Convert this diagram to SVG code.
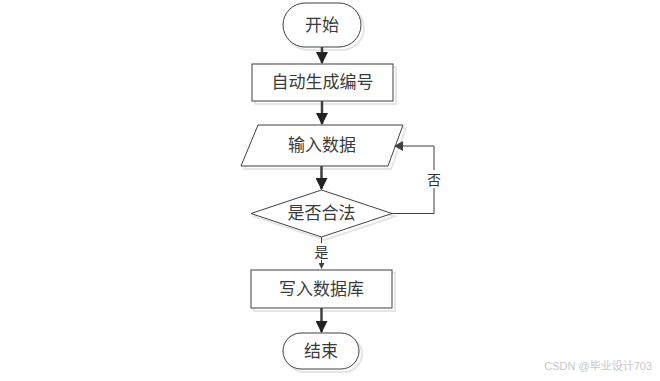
<svg xmlns="http://www.w3.org/2000/svg" width="660" height="381" viewBox="0 0 660 381">
<defs>
<marker id="ah" markerWidth="10" markerHeight="10" refX="8" refY="5" orient="auto" markerUnits="userSpaceOnUse">
<path d="M0,0 L9,5 L0,10 Z" fill="#404040"/>
</marker>
<marker id="ahs" markerWidth="6" markerHeight="6" refX="5" refY="3" orient="auto" markerUnits="userSpaceOnUse">
<path d="M0,0 L6,3 L0,6 Z" fill="#404040"/>
</marker>
<marker id="ahl" markerWidth="12" markerHeight="12" refX="11" refY="6" orient="auto" markerUnits="userSpaceOnUse">
<path d="M0,0 L12,6 L0,12 Z" fill="#222"/>
</marker>
</defs>
<style>
.s{fill:#fff;stroke:#404040;stroke-width:1}
.sh{fill:none;stroke:#e6e6e6;stroke-width:2}
.t{font-family:"Liberation Sans","Noto Sans CJK SC",sans-serif;font-size:17px;fill:#3a3a3a;text-anchor:middle}
.c{stroke:#404040;stroke-width:2.5;fill:none}
.l{font-family:"Liberation Sans","Noto Sans CJK SC",sans-serif;font-size:14px;fill:#333;text-anchor:middle}
</style>
<rect width="660" height="381" fill="#fff"/>
<g id="start">
<rect class="sh" x="286" y="6" width="78" height="44" rx="22"/>
<rect class="s" x="283" y="3" width="78" height="44" rx="22"/>
<text class="t" x="322" y="31">开始</text>
</g>
<g id="gen">
<rect class="sh" x="255" y="67" width="141" height="37"/>
<rect class="s" x="252" y="64" width="141" height="37"/>
<text class="t" x="322.5" y="88">自动生成编号</text>
</g>
<g id="input">
<polygon class="sh" points="261,128 406,128 391,169 244,169"/>
<polygon class="s" points="258,125 403,125 388,166 241,166"/>
<text class="t" x="322" y="151">输入数据</text>
</g>
<g id="check">
<polygon class="sh" points="324.5,193 395,216.5 324.5,240 254,216.5"/>
<polygon class="s" points="321.5,190 392,213.5 321.5,237 251,213.5"/>
<text class="t" x="321.5" y="219">是否合法</text>
</g>
<g id="write">
<rect class="sh" x="254" y="273" width="141" height="38"/>
<rect class="s" x="251" y="270" width="141" height="38"/>
<text class="t" x="321.5" y="295">写入数据库</text>
</g>
<g id="end">
<rect class="sh" x="286" y="336" width="76" height="36" rx="18"/>
<rect class="s" x="283" y="333" width="76" height="36" rx="18"/>
<text class="t" x="321" y="357">结束</text>
</g>
<g id="connectors">
<line class="c" x1="322" y1="47" x2="322" y2="63" marker-end="url(#ahl)"/>
<line class="c" x1="322" y1="101" x2="322" y2="124" marker-end="url(#ahl)"/>
<line class="c" x1="321.5" y1="166" x2="321.5" y2="189" marker-end="url(#ahl)"/>
<polyline points="392,213.5 434,213.5 434,146 395,146" fill="none" stroke="#404040" stroke-width="1" marker-end="url(#ah)"/>
<rect x="427" y="170" width="14" height="18" fill="#fff"/>
<text class="l" x="434" y="185">否</text>
<line x1="321.5" y1="237" x2="321.5" y2="268" stroke="#404040" stroke-width="1" marker-end="url(#ahs)"/>
<rect x="313" y="243" width="17" height="17" fill="#fff"/>
<text class="l" x="321.5" y="257">是</text>
<line class="c" x1="321.5" y1="308" x2="321.5" y2="332" marker-end="url(#ahl)"/>
</g>
<text x="652" y="370" font-family="'Liberation Sans','Noto Sans CJK SC',sans-serif" font-size="11" fill="#c8c8c8" text-anchor="end">CSDN @毕业设计703</text>
</svg>
